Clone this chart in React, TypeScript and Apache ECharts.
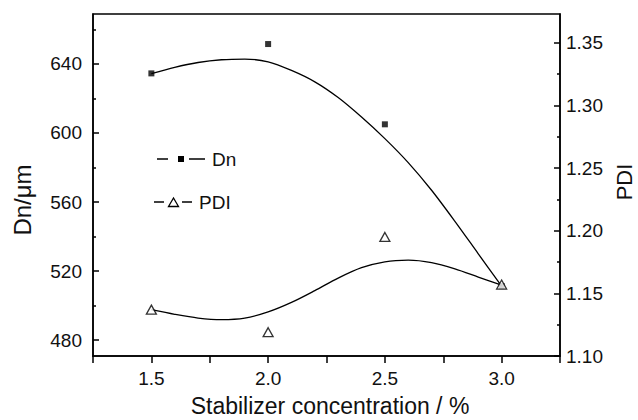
import React, { useEffect, useRef } from "react";
import * as echarts from "echarts";

// measured points
const concentration = [1.5, 2.0, 2.5, 3.0];
const dnValues = [634.5, 651.5, 605.0, 511.3];
const pdiValues = [1.137, 1.119, 1.195, 1.157];

// fitted curves
const fitX = [1.5, 1.6, 1.7, 1.8, 1.9, 2.0, 2.1, 2.2, 2.3, 2.4, 2.5, 2.6, 2.7, 2.8, 2.9, 3.0];
const dnFit = [634.3, 638.0, 640.8, 642.4, 642.8, 641.2, 636.2, 629.6, 620.5, 609.2, 596.7, 582.8, 566.8, 548.8, 530.0, 511.3];
const pdiFit = [1.137, 1.1333, 1.1303, 1.129, 1.1302, 1.1352, 1.1428, 1.1522, 1.1622, 1.1705, 1.1752, 1.1765, 1.1745, 1.1695, 1.1630, 1.1565];

// ticks
const xTickLabels = [1.5, 2.0, 2.5, 3.0];
const dnTicks = [480, 520, 560, 600, 640];
const dnMinorTicks = [500, 540, 580, 620, 660];
const pdiTicks = [1.1, 1.15, 1.2, 1.25, 1.3, 1.35];
const pdiMinorTicks = [1.125, 1.175, 1.225, 1.275, 1.325];

const FONT = "'Liberation Sans', Arial, sans-serif";
const INK = "#000";

export default function App() {
  const ref = useRef<HTMLDivElement>(null);
  useEffect(() => {
    if (!ref.current) return;
    const chart = echarts.init(ref.current, null, { renderer: "svg" });
    const dnMin = 470.8, dnMax = 668.9;
    const pdiMin = 1.1, pdiMax = 1.373;
    const axisLine = { show: true, lineStyle: { color: INK, width: 1.5 } };
    chart.setOption({
      animation: false,
      backgroundColor: "#fff",
      grid: { left: 93, right: 78, top: 14, bottom: 64, show: true, borderColor: INK, borderWidth: 1.5, backgroundColor: "transparent" },
      xAxis: {
        type: "value", min: 1.25, max: 3.25, interval: 0.25,
        axisLine,
        axisTick: { show: true, length: 7, lineStyle: { color: INK, width: 1.5 } },
        axisLabel: { customValues: xTickLabels, formatter: (v: number) => v.toFixed(1), color: "#111", fontSize: 19, fontFamily: FONT, margin: 13 },
        splitLine: { show: false },
      },
      yAxis: [
        {
          type: "value", position: "left", min: dnMin, max: dnMax,
          axisLine,
          axisTick: { show: true, inside: true, length: 6, customValues: dnTicks, lineStyle: { color: INK, width: 1.5 } },
          axisLabel: { customValues: dnTicks, color: "#111", fontSize: 19, fontFamily: FONT, margin: 11 },
          splitLine: { show: false },
        },
        {
          type: "value", position: "right", min: pdiMin, max: pdiMax,
          axisLine,
          axisTick: { show: true, inside: true, length: 6, customValues: pdiTicks, lineStyle: { color: INK, width: 1.5 } },
          axisLabel: { customValues: pdiTicks, formatter: (v: number) => v.toFixed(2), color: "#111", fontSize: 19, fontFamily: FONT, margin: 6 },
          splitLine: { show: false },
        },
        {
          type: "value", position: "left", min: dnMin, max: dnMax,
          axisLine: { show: false },
          axisTick: { show: true, inside: true, length: 3, customValues: dnMinorTicks, lineStyle: { color: INK, width: 1.5 } },
          axisLabel: { show: false },
          splitLine: { show: false },
        },
        {
          type: "value", position: "right", min: pdiMin, max: pdiMax,
          axisLine: { show: false },
          axisTick: { show: true, inside: true, length: 3, customValues: pdiMinorTicks, lineStyle: { color: INK, width: 1.5 } },
          axisLabel: { show: false },
          splitLine: { show: false },
        },
      ],
      series: [
        {
          type: "line", name: "Dn fit", yAxisIndex: 0, smooth: 0.3, showSymbol: false,
          lineStyle: { color: INK, width: 1.3 },
          data: fitX.map((x, i) => [x, dnFit[i]]),
        },
        {
          type: "line", name: "PDI fit", yAxisIndex: 1, smooth: 0.3, showSymbol: false,
          lineStyle: { color: INK, width: 1.3 },
          data: fitX.map((x, i) => [x, pdiFit[i]]),
        },
        {
          type: "scatter", name: "Dn", yAxisIndex: 0, symbol: "rect", symbolSize: 6,
          itemStyle: { color: INK },
          data: concentration.map((x, i) => [x, dnValues[i]]),
          z: 3,
        },
        {
          type: "scatter", name: "PDI", yAxisIndex: 1, symbol: "triangle", symbolSize: [10, 9],
          itemStyle: { color: "#fff", borderColor: INK, borderWidth: 1.3 },
          data: concentration.map((x, i) => [x, pdiValues[i]]),
          z: 4,
        },
      ],
      graphic: [
        // legend
        { type: "line", shape: { x1: 157, y1: 159, x2: 168, y2: 159 }, style: { stroke: INK, lineWidth: 1.5 } },
        { type: "rect", shape: { x: 178, y: 156, width: 6, height: 6 }, style: { fill: INK } },
        { type: "line", shape: { x1: 189, y1: 159, x2: 205, y2: 159 }, style: { stroke: INK, lineWidth: 1.5 } },
        { type: "text", x: 212, y: 159, style: { text: "Dn", font: `19px ${FONT}`, fill: "#111", verticalAlign: "middle" } },
        { type: "line", shape: { x1: 154, y1: 202, x2: 164, y2: 202 }, style: { stroke: INK, lineWidth: 1.5 } },
        { type: "polygon", shape: { points: [[168.5, 206.5], [178.5, 206.5], [173.5, 198]] }, style: { fill: "#fff", stroke: INK, lineWidth: 1.3 } },
        { type: "line", shape: { x1: 182, y1: 202, x2: 192, y2: 202 }, style: { stroke: INK, lineWidth: 1.5 } },
        { type: "text", x: 199, y: 202, style: { text: "PDI", font: `19px ${FONT}`, fill: "#111", verticalAlign: "middle" } },
        // axis titles
        { type: "text", x: 330, y: 406, style: { text: "Stabilizer concentration / %", font: `23px ${FONT}`, fill: "#111", align: "center", verticalAlign: "middle" } },
        { type: "text", x: 22, y: 200, rotation: Math.PI / 2, style: { text: "Dn/μm", font: `24px ${FONT}`, fill: "#111", align: "center", verticalAlign: "middle" } },
        { type: "text", x: 624, y: 182, rotation: Math.PI / 2, style: { text: "PDI", font: `22px ${FONT}`, fill: "#111", align: "center", verticalAlign: "middle" } },
      ],
    });
    return () => chart.dispose();
  }, []);
  return <div ref={ref} style={{ width: 638, height: 420, position: "fixed", left: 0, top: 0 }} />;
}
